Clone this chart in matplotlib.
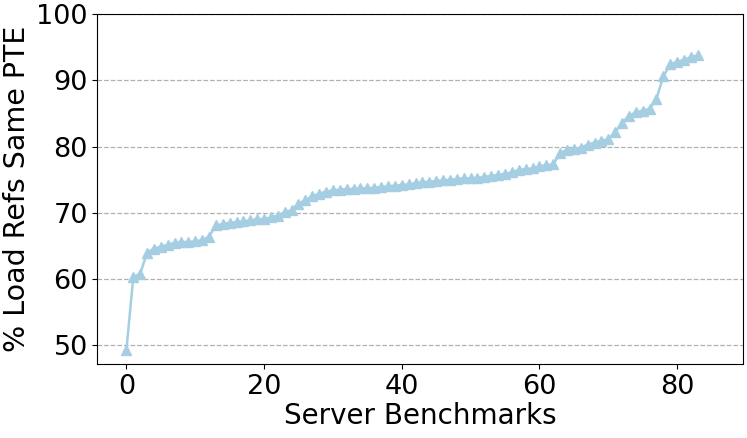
import matplotlib
matplotlib.use('Agg')
import matplotlib.pyplot as plt

# sorted per-benchmark percentages
pct_same_pte = [
    49.3, 60.3, 60.8, 64.0, 64.6, 64.9, 65.2, 65.5, 65.6, 65.6,
    65.7, 65.9, 66.4, 68.1, 68.3, 68.5, 68.6, 68.7, 68.9, 69.0,
    69.1, 69.3, 69.6, 70.1, 70.4, 71.4, 71.9, 72.5, 72.9, 73.2,
    73.4, 73.5, 73.6, 73.6, 73.7, 73.7, 73.8, 73.9, 74.0, 74.1,
    74.2, 74.3, 74.5, 74.6, 74.7, 74.8, 74.9, 75.0, 75.1, 75.2,
    75.2, 75.3, 75.4, 75.6, 75.7, 75.9, 76.1, 76.5, 76.6, 76.7,
    77.0, 77.2, 77.3, 79.0, 79.5, 79.6, 79.8, 80.3, 80.6, 80.9,
    81.1, 82.2, 83.6, 84.6, 85.2, 85.4, 85.7, 87.2, 90.6, 92.4,
    92.8, 93.1, 93.5, 93.8,
]
benchmarks = list(range(len(pct_same_pte)))

fig, ax = plt.subplots(figsize=(7.47, 4.38), dpi=100)
fig.subplots_adjust(left=0.1305, right=0.994, top=0.968, bottom=0.169)

ax.plot(benchmarks, pct_same_pte, marker='^', color='#a6cee3',
        markersize=7, linewidth=1.8)

ax.set_xlim(-4.2, 89.5)
ax.set_ylim(47.2, 100)
ax.set_xticks([0, 20, 40, 60, 80])
ax.set_yticks([50, 60, 70, 80, 90, 100])
ax.yaxis.grid(True, linestyle='--', color='#b0b0b0', linewidth=0.9)
ax.set_axisbelow(True)
ax.tick_params(labelsize=19.5)
ax.set_xlabel('Server Benchmarks', fontsize=20, labelpad=2)
ax.set_ylabel('% Load Refs Same PTE', fontsize=20.5, labelpad=4)

plt.savefig('out.png', dpi=100)
